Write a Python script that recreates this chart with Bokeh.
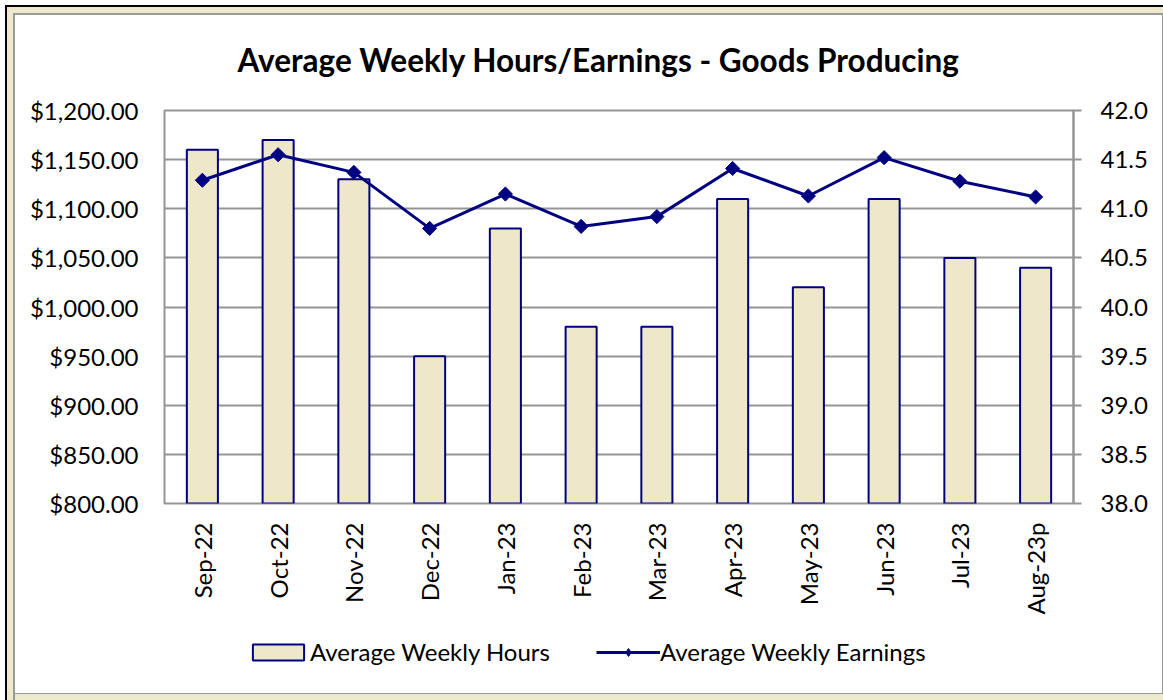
import numpy as np
from bokeh.plotting import figure
from bokeh.layouts import column
from bokeh.models import (Range1d, LinearAxis, FixedTicker, NumeralTickFormatter,
                          Legend, LegendItem, FactorRange, Title)
from bokeh.embed import file_html
from bokeh.resources import INLINE

# ---------------- data ----------------
months = ["Sep-22", "Oct-22", "Nov-22", "Dec-22", "Jan-23", "Feb-23",
          "Mar-23", "Apr-23", "May-23", "Jun-23", "Jul-23", "Aug-23p"]
weekly_hours = [41.6, 41.7, 41.3, 39.5, 40.8, 39.8, 39.8, 41.1, 40.2, 41.1, 40.5, 40.4]
weekly_earnings = [1129, 1155, 1137, 1080, 1115, 1082, 1092, 1141, 1113, 1152, 1128, 1112]
earnings_ticks = [800, 850, 900, 950, 1000, 1050, 1100, 1150, 1200]
hours_ticks = [38.0, 38.5, 39.0, 39.5, 40.0, 40.5, 41.0, 41.5, 42.0]
title_text = "Average Weekly Hours/Earnings - Goods Producing"
legend_labels = ["Average Weekly Hours", "Average Weekly Earnings"]

FONT = "Lato"
NAVY = "#000080"
BEIGE = "#EEE7CA"
FRAME_BEIGE = "#EEE8CC"
GRID = "#959595"

bar_style = dict(fill_color=BEIGE, line_color=NAVY, line_width=2)
line_style = dict(line_color=NAVY, line_width=3)
marker_style = dict(marker="square", size=10, angle=np.pi / 4, fill_color=NAVY, line_color=NAVY)

# ---------------- main chart ----------------
main = figure(x_range=FactorRange(factors=months), y_range=Range1d(800, 1200),
              width=1147, height=615, output_backend="svg", toolbar_location=None,
              min_border_left=149, min_border_right=89, min_border_top=95,
              min_border_bottom=127, border_fill_color="white",
              background_fill_color="white")
main.extra_y_ranges = {"hours": Range1d(hours_ticks[0], hours_ticks[-1])}

main.vbar(x=months, top=weekly_hours, bottom=hours_ticks[0], width=0.41,
          y_range_name="hours", **bar_style)
main.line(months, weekly_earnings, **line_style)
main.scatter(months, weekly_earnings, **marker_style)

# small spacer between the frame and the title
main.add_layout(Title(text=" ", text_font_size="1px", standoff=6), "above")

main.title.text = title_text
main.title.text_font = FONT
main.title.text_font_size = "31.5px"
main.title.text_font_style = "bold"
main.title.text_color = "black"
main.title.align = "left"
main.title.offset = 73
main.title.vertical_align = "bottom"
main.title.standoff = 46

main.outline_line_color = GRID
main.outline_line_width = 2
main.xgrid.grid_line_color = None
main.ygrid.grid_line_color = GRID
main.ygrid.grid_line_width = 2

la = main.yaxis[0]
la.ticker = FixedTicker(ticks=earnings_ticks)
la.formatter = NumeralTickFormatter(format="$0,0.00")
la.axis_line_color = None
la.major_tick_line_color = None
la.minor_tick_line_color = None
la.major_tick_out = 0
la.major_tick_in = 0
la.major_label_standoff = 26
la.major_label_text_font = FONT
la.major_label_text_font_size = "24px"
la.major_label_text_color = "black"

ra = LinearAxis(y_range_name="hours", ticker=FixedTicker(ticks=hours_ticks),
                formatter=NumeralTickFormatter(format="0.0"))
ra.axis_line_color = GRID
ra.axis_line_width = 2
ra.major_tick_line_color = GRID
ra.major_tick_line_width = 2
ra.major_tick_out = 8
ra.major_tick_in = 0
ra.minor_tick_line_color = None
ra.major_label_standoff = 19
ra.major_label_text_font = FONT
ra.major_label_text_font_size = "24px"
ra.major_label_text_color = "black"
main.add_layout(ra, "right")

xa = main.xaxis[0]
xa.axis_line_color = None
xa.major_tick_line_color = None
xa.major_tick_out = 0
xa.major_tick_in = 0
xa.major_label_orientation = np.pi / 2
xa.major_label_standoff = 19
xa.major_label_text_font = FONT
xa.major_label_text_font_size = "24px"
xa.major_label_text_color = "black"

# ---------------- legend strip (same series; renderers hidden, only legend drawn) ----------------
leg = figure(width=1147, height=63, output_backend="svg", toolbar_location=None,
             x_axis_type=None, y_axis_type=None,
             x_range=FactorRange(factors=months), y_range=Range1d(0, 1),
             min_border=0, border_fill_color="white", background_fill_color="white")
leg.outline_line_color = None
leg.xgrid.grid_line_color = None
leg.ygrid.grid_line_color = None
lb = leg.vbar(x=months, top=weekly_hours, bottom=hours_ticks[0], width=0.41, **bar_style)
ll = leg.line(months, weekly_earnings, **line_style)
lm = leg.scatter(months, weekly_earnings, marker="diamond", fill_color=NAVY, line_color=NAVY)
for r in (lb, ll, lm):
    r.visible = False

legend = Legend(items=[LegendItem(label=legend_labels[0], renderers=[lb]),
                       LegendItem(label=legend_labels[1], renderers=[ll, lm])],
                orientation="horizontal", location=(82, 27))
legend.click_policy = "none"
legend.inactive_fill_alpha = 0
legend.padding = 0
legend.margin = 0
legend.spacing = 46
legend.border_line_alpha = 0
legend.background_fill_alpha = 0
legend.glyph_width = 64
legend.glyph_height = 20
legend.label_standoff = 0
legend.label_text_font = FONT
legend.label_text_font_size = "24px"
legend.label_text_color = "black"
leg.add_layout(legend, "center")

p = column(main, leg, spacing=0)
p.styles = {
    "padding": "15px 1px 7px 15px",
    "background-color": "#ffffff",
    "box-shadow": ("inset 5px 5px 0px 0px #ffffff, "
                   "inset 7px 7px 0px 0px #000000, "
                   "inset 13px 13px 0px 0px " + FRAME_BEIGE + ", "
                   "inset 15px 15px 0px 0px #999999, "
                   "inset 0px -6px 0px 0px " + FRAME_BEIGE + ", "
                   "inset 0px -7px 0px 0px #999999, "
                   "inset -1px 0px 0px 0px #999999"),
}

open("out.html", "w").write(file_html(p, INLINE))
